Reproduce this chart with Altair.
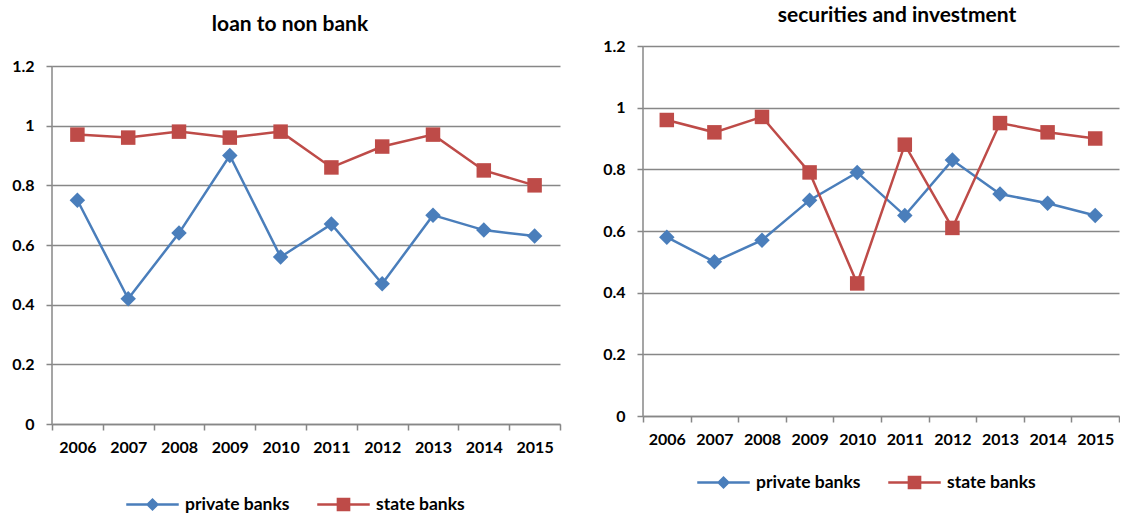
import altair as alt
import pandas as pd

years = ["2006", "2007", "2008", "2009", "2010", "2011", "2012", "2013", "2014", "2015"]
series_names = ["private banks", "state banks"]

loan_private = [0.75, 0.42, 0.64, 0.90, 0.56, 0.67, 0.47, 0.70, 0.65, 0.63]
loan_state = [0.97, 0.96, 0.98, 0.96, 0.98, 0.86, 0.93, 0.97, 0.85, 0.80]

sec_private = [0.58, 0.50, 0.57, 0.70, 0.79, 0.65, 0.83, 0.72, 0.69, 0.65]
sec_state = [0.96, 0.92, 0.97, 0.79, 0.43, 0.88, 0.61, 0.95, 0.92, 0.90]

y_ticks = [0, 0.2, 0.4, 0.6, 0.8, 1.0, 1.2]
Y_TOP = 1.2

BLUE = "#4A7EBB"
RED = "#BE4B48"
GRID = "#878787"
FONT = "Lato"

# legend symbols: a line with a marker in the middle
LEG_DIAMOND = "M-1,-0.048L1,-0.048L1,0.048L-1,0.048Z M0,-0.25L0.25,0L0,0.25L-0.25,0Z"
LEG_SQUARE = "M-1,-0.048L1,-0.048L1,0.048L-1,0.048Z M-0.26,-0.26L0.26,-0.26L0.26,0.26L-0.26,0.26Z"


def make_df(priv, state):
    rows = []
    for yr, p, s in zip(years, priv, state):
        rows.append({"year": yr, "series": "private banks", "value": p})
        rows.append({"year": yr, "series": "state banks", "value": s})
    return pd.DataFrame(rows)


def panel(df, title_text, w, h_grid, h_total, t_offset, t_dx, leg_x, leg_y):
    # the plot area is h_total tall; the gridded part (0..1.2) is h_grid tall at the bottom
    y_max = Y_TOP * h_total / h_grid
    x = alt.X(
        "year:N",
        sort=years,
        bandPosition=0.5,
        scale=alt.Scale(type="band", domain=years, paddingInner=0, paddingOuter=0),
        axis=alt.Axis(
            title=None, labelAngle=0, tickBand="extent", tickSize=6,
            tickColor=GRID, tickWidth=1.5, domainColor=GRID, domainWidth=1.5,
            labelFont=FONT, labelFontSize=16, labelFontWeight="bold", labelColor="black",
            labelPadding=9, grid=False,
        ),
    )
    y = alt.Y(
        "value:Q",
        scale=alt.Scale(domain=[0, y_max], nice=False, zero=True),
        axis=alt.Axis(
            title=None, values=y_ticks, format=".1~f", tickSize=6, domain=False,
            tickColor=GRID, tickWidth=1.5,
            grid=True, gridColor=GRID, gridWidth=1.5, labelFlush=False,
            labelFont=FONT, labelFontSize=16, labelFontWeight="bold", labelColor="black",
            labelPadding=12,
        ),
    )
    base = alt.Chart(df)
    priv = base.transform_filter(alt.datum.series == "private banks")
    state = base.transform_filter(alt.datum.series == "state banks")

    # y axis line from 0 to 1.2
    axis_line = alt.Chart(pd.DataFrame({"lo": [0.0], "hi": [Y_TOP]})).mark_rule(
        color=GRID, strokeWidth=1.5
    ).encode(x=alt.value(0), y=alt.Y("lo:Q"), y2="hi:Q")

    line_p = priv.mark_line(color=BLUE, strokeWidth=2.5).encode(x=x, y=y)
    line_s = state.mark_line(color=RED, strokeWidth=2.5).encode(x=x, y=y)
    pts_p = priv.mark_point(shape="diamond", filled=True, size=240, color=BLUE, opacity=1).encode(x=x, y=y)
    pts_s = state.mark_point(shape="square", filled=True, size=210, color=RED, opacity=1).encode(x=x, y=y)

    leg = alt.Legend(
        title=None, orient="none", legendX=leg_x, legendY=leg_y, direction="horizontal",
        symbolSize=2756, symbolStrokeWidth=0, labelFont=FONT, labelFontSize=17.5,
        labelFontWeight="bold", labelColor="black", labelOffset=6, columnPadding=27,
        padding=0, labelLimit=0,
    )
    legend_layer = base.transform_filter("false").mark_point(filled=True, opacity=1).encode(
        x=x, y=y,
        color=alt.Color("series:N", scale=alt.Scale(domain=series_names, range=[BLUE, RED]), legend=leg),
        shape=alt.Shape("series:N", scale=alt.Scale(domain=series_names, range=[LEG_DIAMOND, LEG_SQUARE]), legend=leg),
    )

    return alt.layer(line_p, line_s, pts_p, pts_s, legend_layer, axis_line).properties(
        width=w, height=h_total,
        title=alt.TitleParams(
            text=title_text, font=FONT, fontSize=21, fontWeight="bold", color="black",
            anchor="middle", frame="group", offset=t_offset, dx=t_dx,
        ),
    )


left = panel(make_df(loan_private, loan_state), "loan to non bank", 508, 358, 378, 11, -16, 74, 432)
right = panel(make_df(sec_private, sec_state), "securities and investment", 476, 370, 370, 12, 16, 54, 410)

chart = alt.concat(left, right, columns=2, spacing=41).resolve_scale(
    color="independent", shape="independent"
).resolve_legend(color="independent", shape="independent").properties(
    padding={"left": 11, "top": 5, "right": 0, "bottom": 0},
    background="white",
).configure_view(stroke=None)

chart.save("out.html", embed_options={"renderer": "svg", "actions": False})
